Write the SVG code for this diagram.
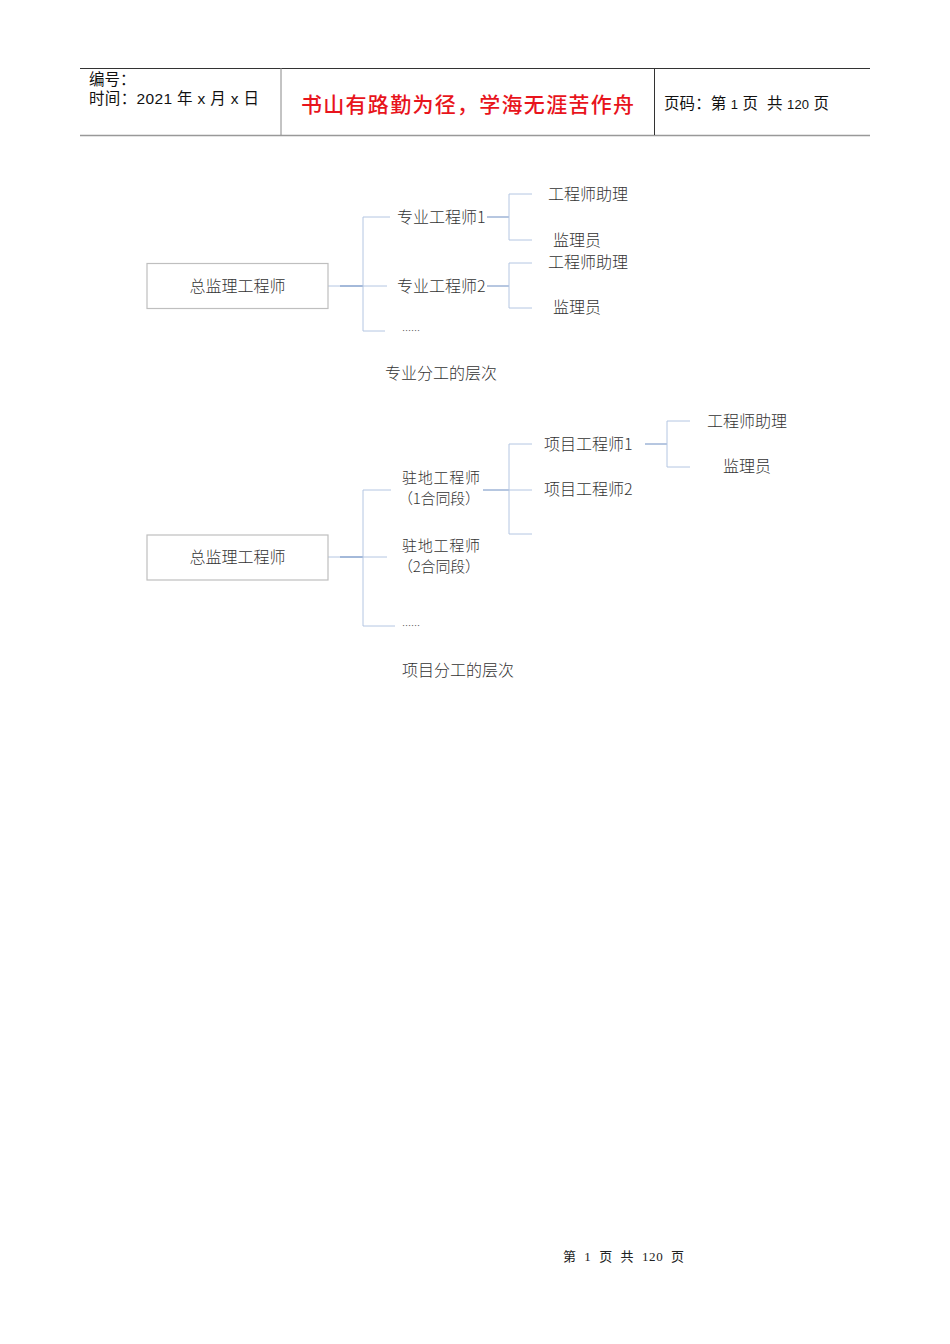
<svg xmlns="http://www.w3.org/2000/svg" width="950" height="1344" viewBox="0 0 950 1344">
<style>
.hd{font-family:"Liberation Sans","Noto Sans CJK SC",sans-serif;font-size:15.5px;fill:#111}
.title{font-family:"Noto Sans CJK SC",sans-serif;font-size:21px;fill:#e8141c;font-weight:500}
.t{font-family:"Noto Sans CJK SC",sans-serif;font-size:16px;fill:#333;font-weight:300}
.t2{font-family:"Noto Sans CJK SC",sans-serif;font-size:15px;fill:#333;font-weight:300}
.cap{font-family:"Noto Sans CJK SC",sans-serif;font-size:16px;fill:#333;font-weight:300}
.dots{font-family:"Noto Sans CJK SC",sans-serif;font-size:9px;fill:#555}
.box{fill:#fff;stroke:#bfbfbf;stroke-width:1.2}
.ln{stroke:#b4c6e2;stroke-width:1;fill:none}
.dk{stroke:#6f8fc2;stroke-width:1;fill:none}
.ft{font-family:"Liberation Serif","Noto Sans CJK SC",serif;font-size:13px;fill:#222}
</style>
<rect width="950" height="1344" fill="#fff"/>
<g id="header">
<line x1="80" y1="68.5" x2="870" y2="68.5" stroke="#333" stroke-width="1"/>
<line x1="80" y1="135.5" x2="870" y2="135.5" stroke="#999" stroke-width="1.6"/>
<line x1="281" y1="68" x2="281" y2="135" stroke="#888" stroke-width="1"/>
<line x1="654.5" y1="68" x2="654.5" y2="135" stroke="#333" stroke-width="1"/>
<text class="hd" x="89" y="85">编号：</text>
<text class="hd" x="89" y="104" xml:space="preserve" textLength="170" lengthAdjust="spacing">时间：2021 年 x 月 x 日</text>
<text class="title" x="301" y="112" textLength="333">书山有路勤为径，学海无涯苦作舟</text>
<text class="hd" x="664" y="109" xml:space="preserve" textLength="165" lengthAdjust="spacing">页码：第 <tspan font-size="13">1</tspan> 页  共 <tspan font-size="13">120</tspan> 页</text>
</g>
<g id="connectors">
<line class="ln" x1="328" y1="286" x2="363" y2="286"/>
<line class="dk" x1="340" y1="286" x2="363" y2="286"/>
<polyline class="ln" points="390,217 363,217 363,331 385,331"/>
<line class="ln" x1="363" y1="286" x2="387" y2="286"/>
<line class="dk" x1="487" y1="217" x2="509" y2="217"/>
<polyline class="ln" points="532,194 509,194 509,240 532,240"/>
<line class="dk" x1="487" y1="286" x2="509" y2="286"/>
<polyline class="ln" points="532,263 509,263 509,308 532,308"/>
<line class="ln" x1="328" y1="557" x2="363" y2="557"/>
<line class="dk" x1="340" y1="557" x2="363" y2="557"/>
<polyline class="ln" points="391,490 363,490 363,626 395,626"/>
<line class="ln" x1="363" y1="557" x2="387" y2="557"/>
<line class="dk" x1="483" y1="490" x2="509" y2="490"/>
<polyline class="ln" points="532,444 509,444 509,534 532,534"/>
<line class="ln" x1="509" y1="490" x2="532" y2="490"/>
<line class="dk" x1="645" y1="444" x2="667" y2="444"/>
<polyline class="ln" points="690,421 667,421 667,467 690,467"/>
</g>
<g id="d1-root"><rect class="box" x="147" y="263.5" width="181" height="45"/><text class="t" x="237.5" y="291.5" text-anchor="middle">总监理工程师</text></g>
<g id="d1-e1"><text class="t" x="397" y="222.5">专业工程师1</text></g>
<g id="d1-e1a"><text class="t" x="548" y="199.5">工程师助理</text></g>
<g id="d1-e1b"><text class="t" x="553" y="245.5">监理员</text></g>
<g id="d1-e2"><text class="t" x="397" y="291.5">专业工程师2</text></g>
<g id="d1-e2a"><text class="t" x="548" y="267.5">工程师助理</text></g>
<g id="d1-e2b"><text class="t" x="553" y="312.5">监理员</text></g>
<g id="d1-more"><text class="dots" x="402" y="334">……</text></g>
<g id="d1-cap"><text class="cap" x="385" y="378.5">专业分工的层次</text></g>
<g id="d2-root"><rect class="box" x="147" y="535" width="181" height="45"/><text class="t" x="237.5" y="562.5" text-anchor="middle">总监理工程师</text></g>
<g id="d2-r1"><text class="t2"><tspan x="402" y="483" textLength="78">驻地工程师</tspan><tspan x="398" y="504" textLength="82">（1合同段）</tspan></text></g>
<g id="d2-p1"><text class="t" x="544" y="449.5">项目工程师1</text></g>
<g id="d2-p1a"><text class="t" x="707" y="426.5">工程师助理</text></g>
<g id="d2-p1b"><text class="t" x="723" y="471.5">监理员</text></g>
<g id="d2-p2"><text class="t" x="544" y="494.5">项目工程师2</text></g>
<g id="d2-r2"><text class="t2"><tspan x="402" y="551" textLength="78">驻地工程师</tspan><tspan x="398" y="572" textLength="82">（2合同段）</tspan></text></g>
<g id="d2-more"><text class="dots" x="402" y="629">……</text></g>
<g id="d2-cap"><text class="cap" x="402" y="675.5">项目分工的层次</text></g>
<g id="footer"><text class="ft" x="563" y="1260.5" xml:space="preserve" textLength="121" lengthAdjust="spacing">第  1  页  共  120  页</text></g>
</svg>
